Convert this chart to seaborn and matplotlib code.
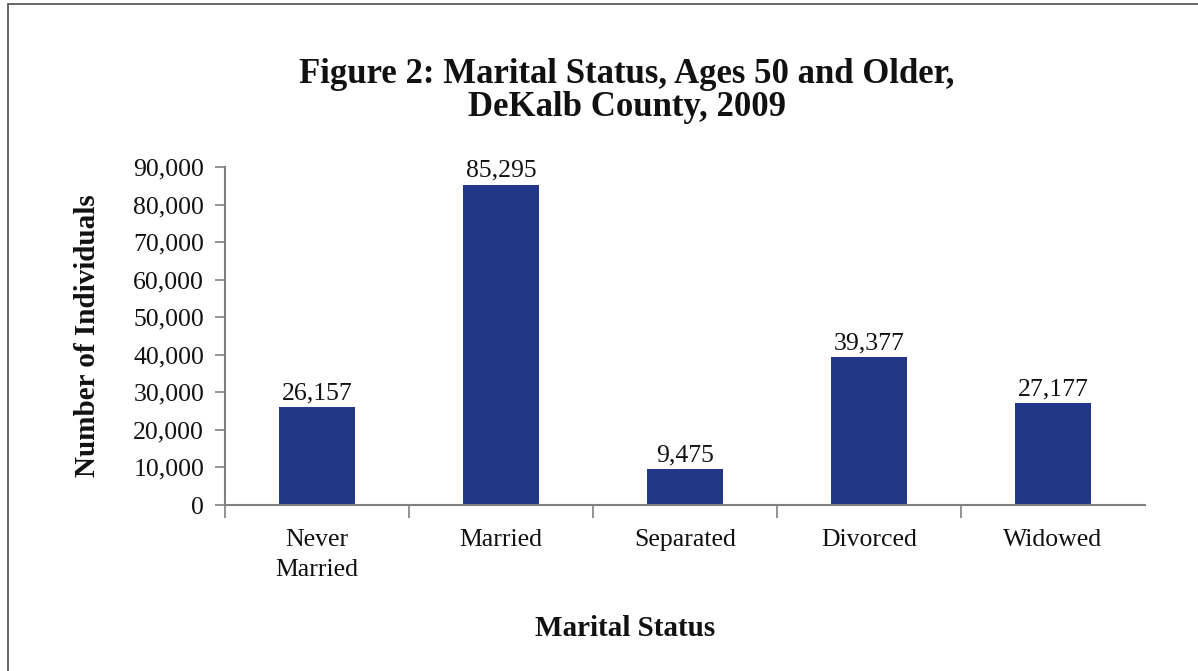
import matplotlib
matplotlib.use("Agg")
import matplotlib.pyplot as plt
from matplotlib.lines import Line2D
from matplotlib.ticker import FuncFormatter, FixedLocator
import seaborn as sns
import pandas as pd

categories = ["Never\nMarried", "Married", "Separated", "Divorced", "Widowed"]
individuals = [26157, 85295, 9475, 39377, 27177]
y_ticks = [0, 10000, 20000, 30000, 40000, 50000, 60000, 70000, 80000, 90000]

title_text = "Figure 2: Marital Status, Ages 50 and Older,\nDeKalb County, 2009"
x_label = "Marital Status"
y_label = "Number of Individuals"

sns.set_theme(style="white")
plt.rcParams["font.family"] = ["Liberation Serif", "DejaVu Serif"]
plt.rcParams["text.color"] = "#111111"

df = pd.DataFrame({"status": categories, "count": individuals})

fig = plt.figure(figsize=(11.98, 6.71), dpi=100)
ax = fig.add_axes([225 / 1198, 1 - 505 / 671, 920 / 1198, 338 / 671])

bar_color = "#223788"
sns.barplot(data=df, x="status", y="count", color=bar_color, width=0.41,
            saturation=1, ax=ax, edgecolor="none")

ax.set_xlim(-0.5, len(categories) - 0.5)
ax.set_ylim(0, 90000)
ax.yaxis.set_major_locator(FixedLocator(y_ticks))
ax.yaxis.set_major_formatter(FuncFormatter(lambda v, p: f"{int(v):,}"))

# value labels above each bar
for cont in ax.containers:
    ax.bar_label(cont, labels=[f"{v:,}" for v in individuals], padding=2,
                 fontsize=18.5, color="#111111")

spine_color = "#808080"
for side in ["top", "right"]:
    ax.spines[side].set_visible(False)
for side in ["left", "bottom"]:
    ax.spines[side].set_color(spine_color)
    ax.spines[side].set_linewidth(1.5)

ax.tick_params(axis="y", which="major", left=True, length=7, width=1.2,
               color=spine_color, pad=8, labelsize=18.5, labelcolor="#111111")
ax.tick_params(axis="x", which="major", bottom=False, length=0, pad=17,
               labelsize=18.5, labelcolor="#111111")
ax.set_xticks(range(len(categories)))
ax.set_xticklabels(categories, linespacing=1.5, va="top")
ax.xaxis.set_minor_locator(FixedLocator([i - 0.5 for i in range(len(categories))]))
ax.tick_params(axis="x", which="minor", bottom=True, direction="out",
               length=9, width=1.2, color=spine_color)

ax.set_xlabel(x_label, fontsize=21, fontweight="bold", color="#111111")
ax.xaxis.set_label_coords((625 - 225) / 920, (505 - 615) / 338)
ax.set_ylabel(y_label, fontsize=21, fontweight="bold", color="#111111")
ax.yaxis.set_label_coords((101 - 225) / 920, 0.5)

fig.text(627 / 1198, 1 - 58 / 671, title_text, ha="center", va="top",
         fontsize=25, fontweight="bold", linespacing=0.98, color="#111111")

# frame lines along the top and left edge of the figure
fig.add_artist(Line2D([8 / 1198, 1.0], [1 - 4 / 671, 1 - 4 / 671],
                      transform=fig.transFigure, color="#666666", lw=1.4))
fig.add_artist(Line2D([8 / 1198, 8 / 1198], [0.0, 1 - 4 / 671],
                      transform=fig.transFigure, color="#666666", lw=1.4))

fig.savefig("out.png", dpi=100, facecolor="white")
